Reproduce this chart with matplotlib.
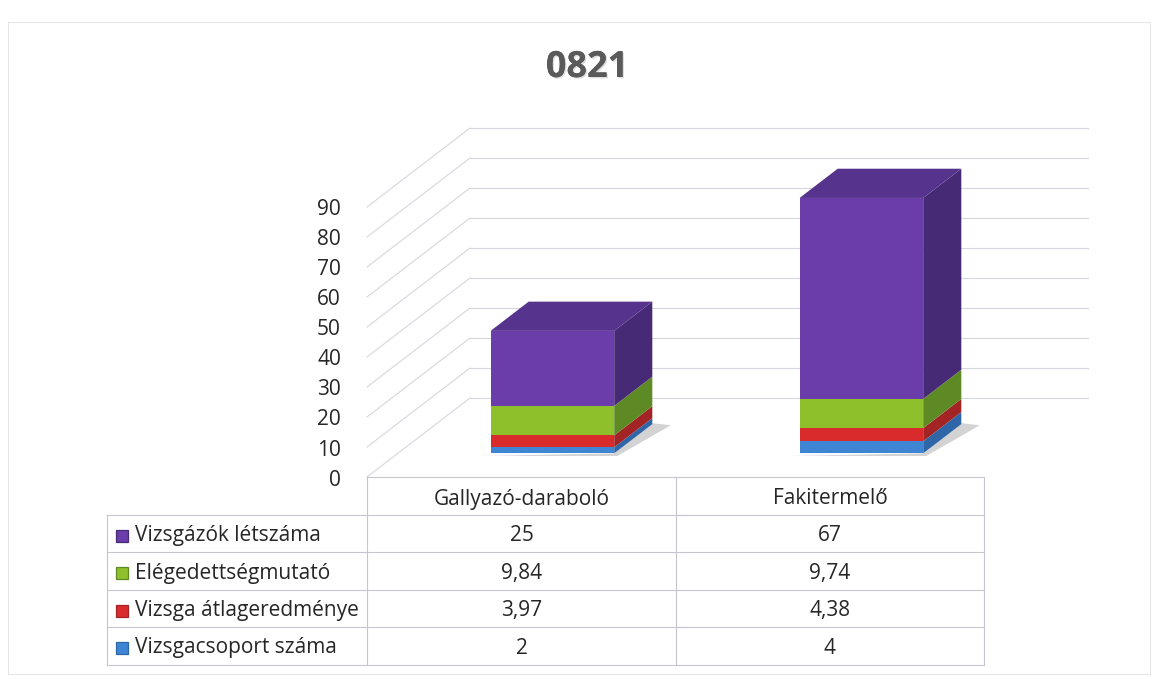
import matplotlib
matplotlib.use("Agg")
import matplotlib.pyplot as plt
from matplotlib.patches import Polygon, Rectangle
from matplotlib.lines import Line2D
import matplotlib.patheffects as pe
import numpy as np

plt.rcParams['font.family'] = ['Open Sans', 'DejaVu Sans']

# ---------------- data ----------------
title = "0821"
categories = ["Gallyazó-daraboló", "Fakitermelő"]
series_names = ["Vizsgacsoport száma", "Vizsga átlageredménye",
                "Elégedettségmutató", "Vizsgázók létszáma"]  # bottom -> top
vizsgacsoport = [2, 4]
atlageredmeny = [3.97, 4.38]
elegedettseg = [9.84, 9.74]
letszam = [25, 67]
table_labels = {
    "Vizsgázók létszáma": ["25", "67"],
    "Elégedettségmutató": ["9,84", "9,74"],
    "Vizsga átlageredménye": ["3,97", "4,38"],
    "Vizsgacsoport száma": ["2", "4"],
}
yticks = [0, 10, 20, 30, 40, 50, 60, 70, 80, 90]

# ---------------- styles ----------------
front_cols = ['#3E86D4', '#D92B2B', '#8DC02A', '#6A3DAA']
side_cols = ['#2E66A8', '#A32424', '#5E8A26', '#472A76']
top_col = '#56338C'
grid_col = '#D6D6DE'
txt_col = '#262626'
FS = 15

W, H = 1157, 679
fig = plt.figure(figsize=(W / 100, H / 100), dpi=100)
ax = fig.add_axes([0, 0, 1, 1])
ax.set_axis_off()

# pixel mapping of data space (front plane)
X0, SX = 367.0, 309.0   # x=0 at px 367, 1 category unit = 309 px
Y0, SY = 477.0, 3.0     # value 0 at px 477 (from top), 1 unit = 3 px
ax.set_xlim(-X0 / SX, (W - X0) / SX)
ax.set_ylim((Y0 - H) / SY, Y0 / SY)

# depth vector (full depth of the 3D box)
DX, DY = 103.0 / SX, 79.0 / SY
ncat = len(categories)

# back wall + left wall gridlines
for v in yticks:
    ax.plot([DX, ncat + DX], [v + DY, v + DY], color=grid_col, lw=0.8, zorder=1)
    ax.plot([0, DX], [v, v + DY], color=grid_col, lw=0.8, zorder=1)

# y tick labels
for v in yticks:
    ax.text(-26.0 / SX, v - 1.0, str(v), ha='right', va='center', fontsize=FS,
            color=txt_col, zorder=5)

# bars
data = np.array([vizsgacsoport, atlageredmeny, elegedettseg, letszam], dtype=float)
width = 0.4
fdx, fdy = 0.30 * DX, 0.30 * DY     # front face depth position
bdx, bdy = 0.37 * DX, 0.37 * DY     # bar depth
centers = np.arange(ncat) + 0.5 + fdx

# small soft shadows at bar feet
for i in range(ncat):
    xl = centers[i] - width / 2
    xr = centers[i] + width / 2
    sh = Polygon([(xl - 0.03, fdy - 0.9), (xr + 0.01, fdy - 0.9),
                  (xr + bdx + 0.06, fdy + bdy - 0.4), (xr + bdx, fdy + bdy + 0.3),
                  (xr, fdy)], closed=True, facecolor='#B0B0B0',
                 edgecolor='none', alpha=0.55, zorder=2)
    ax.add_patch(sh)

bottoms = np.zeros(ncat) + fdy
for s in range(data.shape[0]):
    vals = data[s]
    ax.bar(centers, vals, width=width, bottom=bottoms, color=front_cols[s],
           edgecolor='none', zorder=4)
    for i in range(ncat):
        xr = centers[i] + width / 2
        b, t = bottoms[i], bottoms[i] + vals[i]
        side = Polygon([(xr, b), (xr + bdx, b + bdy), (xr + bdx, t + bdy), (xr, t)],
                       closed=True, facecolor=side_cols[s], edgecolor='none', zorder=3)
        ax.add_patch(side)
    bottoms = bottoms + vals

for i in range(ncat):
    xl = centers[i] - width / 2
    xr = centers[i] + width / 2
    T = bottoms[i]
    top = Polygon([(xl, T), (xl + bdx, T + bdy), (xr + bdx, T + bdy), (xr, T)],
                  closed=True, facecolor=top_col, edgecolor='none', zorder=4)
    ax.add_patch(top)

# title
ax.text((587 - X0) / SX, (Y0 - 68) / SY, title, ha='center', va='center',
        fontsize=26, fontweight='bold', color='#5a5a5a',
        path_effects=[pe.withSimplePatchShadow(offset=(1, -1),
                                               shadow_rgbFace='#b0b0b0', alpha=0.4),
                      pe.Normal()])

# ---------------- data table (in figure pixel coords) ----------------
def fx(px):
    return px / W

def fy(py):
    return 1 - py / H

tab_left, col0_r, col1_r, tab_right = 107, 367, 676, 984
row_edges = [477, 515, 552, 590, 627, 665]
line_kw = dict(color='#C6C6CE', lw=0.8, transform=fig.transFigure, zorder=6)

# horizontal lines
fig.add_artist(Line2D([fx(col0_r), fx(tab_right)], [fy(row_edges[0])] * 2, **line_kw))
for r in row_edges[1:]:
    fig.add_artist(Line2D([fx(tab_left), fx(tab_right)], [fy(r)] * 2, **line_kw))
# vertical lines
fig.add_artist(Line2D([fx(tab_left)] * 2, [fy(row_edges[1]), fy(row_edges[-1])], **line_kw))
for c in [col0_r, col1_r, tab_right]:
    fig.add_artist(Line2D([fx(c)] * 2, [fy(row_edges[0]), fy(row_edges[-1])], **line_kw))

col_centers = [(col0_r + col1_r) / 2, (col1_r + tab_right) / 2]
hdr_y = (row_edges[0] + row_edges[1]) / 2 + 3
for j, cat in enumerate(categories):
    fig.text(fx(col_centers[j]), fy(hdr_y), cat, ha='center', va='center',
             fontsize=FS, color=txt_col)

table_order = list(reversed(range(len(series_names))))  # top row = top series
for k, s in enumerate(table_order):
    name = series_names[s]
    yc = (row_edges[k + 1] + row_edges[k + 2]) / 2 + 2
    ms = 12
    mx0 = 116
    fig.add_artist(Rectangle((fx(mx0), fy(yc + ms / 2)), ms / W, ms / H,
                             transform=fig.transFigure, facecolor=front_cols[s],
                             edgecolor=side_cols[s], lw=0.9, zorder=7))
    fig.text(fx(135), fy(yc), name, ha='left', va='center', fontsize=FS, color=txt_col)
    for j in range(ncat):
        fig.text(fx(col_centers[j]), fy(yc), table_labels[name][j], ha='center',
                 va='center', fontsize=FS, color=txt_col)

# faint outer chart border
fig.add_artist(Rectangle((fx(8), fy(674)), (1150 - 8) / W, (674 - 22) / H,
                         transform=fig.transFigure, facecolor='none',
                         edgecolor='#E6E6EA', lw=0.8, zorder=0))

fig.savefig("out.png", dpi=100)
